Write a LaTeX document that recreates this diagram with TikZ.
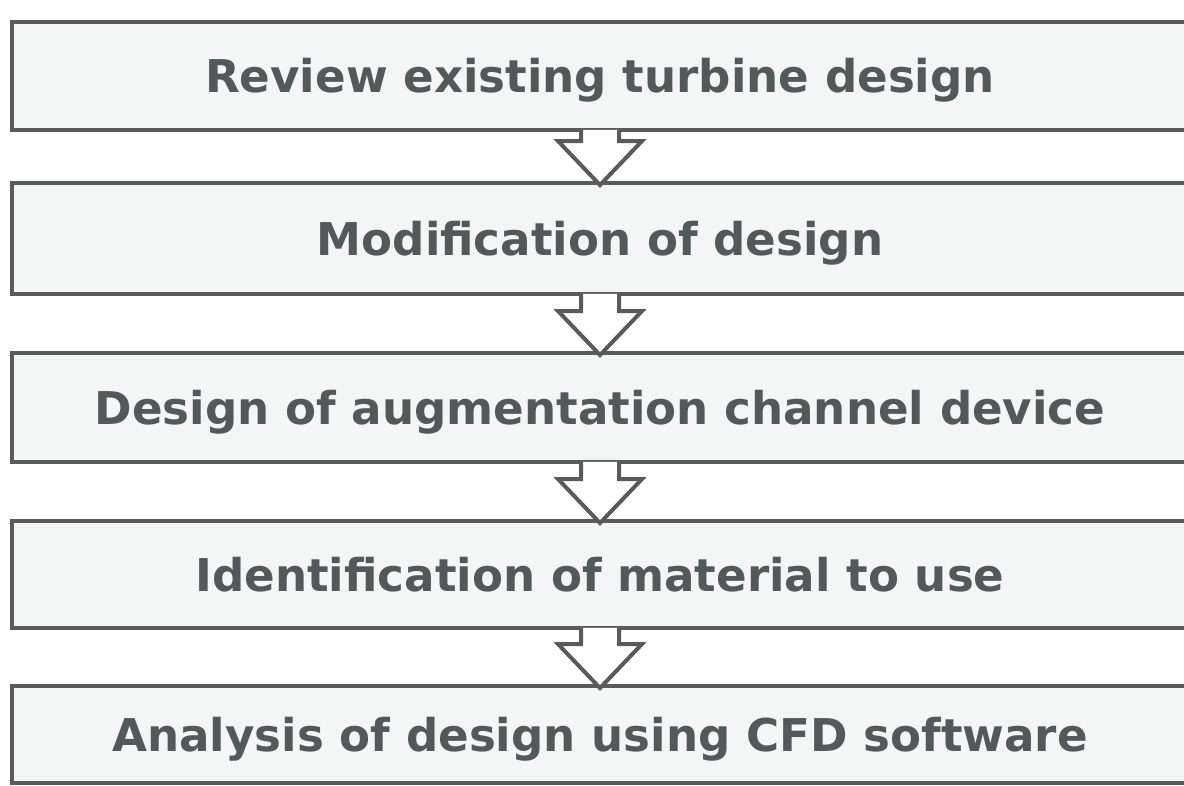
\documentclass[tikz,border=0pt]{standalone}
\usepackage{fontspec}
\setmainfont{DejaVu Sans}
\usetikzlibrary{calc}

\definecolor{boxline}{HTML}{5A5A5A}
\definecolor{boxfill}{HTML}{F4F5F5}
\definecolor{boxtext}{HTML}{53585A}

\tikzset{
  stepbox/.style={draw=boxline, fill=boxfill, line width=0.08cm,
    minimum width=23.52cm, minimum height=2.16cm, inner sep=0pt,
    text=boxtext, font=\fontsize{25.7}{28}\selectfont\bfseries,
    text height=0.67cm, text depth=0pt},
  flowline/.style={draw=boxline, line width=0.08cm, line join=miter}
}

% hollow block arrow from one step down to the next
\newcommand{\stepdown}[2]{%
  \fill[white] ($(#1.south)+(-19,-2)$) -- ($(#2.north)+(-19,-40)$)
    -- ($(#2.north)+(-42,-40)$) -- ($(#2.north)+(0,4)$)
    -- ($(#2.north)+(42,-40)$) -- ($(#2.north)+(19,-40)$)
    -- ($(#1.south)+(19,-2)$) -- cycle;
  \draw[flowline] ($(#1.south)+(-19,-2)$) -- ($(#2.north)+(-19,-40)$)
    -- ($(#2.north)+(-42,-40)$) -- ($(#2.north)+(0,4)$)
    -- ($(#2.north)+(42,-40)$) -- ($(#2.north)+(19,-40)$)
    -- ($(#1.south)+(19,-2)$);
}

\begin{document}
\begin{tikzpicture}[x=0.02cm, y=-0.02cm]
    \clip (0,0) rectangle (1184,785);

    % Steps
    \node[stepbox] (review) at (600,76) {Review existing turbine design};
    \node[stepbox, minimum height=2.22cm] (modify) at (600,238.5) {Modification of design};
    \node[stepbox, minimum height=2.18cm] (channel) at (600,407.5) {Design of augmentation channel device};
    \node[stepbox, minimum height=2.14cm] (material) at (600,574.5) {Identification of material to use};
    \node[stepbox, minimum height=1.94cm] (analysis) at (600,734.5) {Analysis of design using CFD software};

    % Arrows
    \stepdown{review}{modify}
    \stepdown{modify}{channel}
    \stepdown{channel}{material}
    \stepdown{material}{analysis}
\end{tikzpicture}
\end{document}
